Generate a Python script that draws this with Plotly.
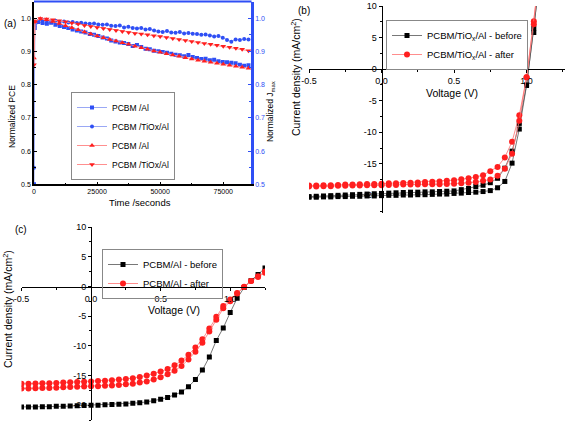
import plotly.graph_objects as go

# ---------------- Panel (a) data ----------------
t_blue = [0, 300, 1700, 3400, 5100, 6800, 8500, 10200, 11900, 13600, 15300, 17000, 18700,
          20400, 22100, 23800, 25500, 27200, 28900, 30600, 32300, 34000, 35700, 37400,
          39100, 40800, 42500, 44200, 45900, 47600, 49300, 51000, 52700, 54400, 56100,
          57800, 59500, 61200, 62900, 64600, 66300, 68000, 69700, 71400, 73100, 74800,
          76500, 78200, 79900, 81600, 83300, 85000]
pce_al_blue = [0.50, 0.97, 0.988, 0.985, 0.983, 0.986, 0.980, 0.976, 0.973, 0.970, 0.966, 0.963,
               0.960, 0.957, 0.952, 0.950, 0.946, 0.942, 0.939, 0.933, 0.930, 0.927, 0.925,
               0.922, 0.916, 0.919, 0.913, 0.908, 0.906, 0.902, 0.900, 0.898, 0.896, 0.893,
               0.890, 0.888, 0.885, 0.889, 0.883, 0.880, 0.877, 0.878, 0.873, 0.875, 0.870,
               0.868, 0.867, 0.866, 0.864, 0.860, 0.857, 0.858]
pce_tiox_blue = [0.55, 0.98, 0.992, 0.995, 0.993, 0.991, 0.992, 0.989, 0.990, 0.987, 0.988, 0.985,
                 0.986, 0.984, 0.983, 0.984, 0.981, 0.980, 0.981, 0.977, 0.976, 0.978, 0.972,
                 0.974, 0.970, 0.969, 0.970, 0.966, 0.967, 0.963, 0.960, 0.958, 0.961, 0.957,
                 0.956, 0.958, 0.954, 0.955, 0.953, 0.952, 0.950, 0.951, 0.948, 0.945, 0.946,
                 0.941, 0.934, 0.929, 0.936, 0.934, 0.937, 0.936]
t_red = [0, 400, 2500, 5000, 7500, 10000, 12500, 15000, 17500, 20000, 22500, 25000, 27500,
         30000, 32500, 35000, 37500, 40000, 42500, 45000, 47500, 50000, 52500, 55000,
         57500, 60000, 62500, 65000, 67500, 70000, 72500, 75000, 77500, 80000, 82500, 85000]
jmax_al_red = [0.88, 0.99, 0.998, 0.995, 0.990, 0.984, 0.977, 0.971, 0.965, 0.958, 0.952, 0.946,
               0.941, 0.936, 0.931, 0.926, 0.921, 0.915, 0.911, 0.906, 0.901, 0.897, 0.893,
               0.889, 0.885, 0.881, 0.877, 0.873, 0.870, 0.867, 0.864, 0.861, 0.858, 0.855,
               0.852, 0.849]
jmax_tiox_red = [0.86, 0.99, 0.999, 0.997, 0.995, 0.992, 0.989, 0.985, 0.982, 0.978, 0.975, 0.972,
                 0.969, 0.966, 0.963, 0.960, 0.957, 0.954, 0.952, 0.950, 0.947, 0.945, 0.942,
                 0.939, 0.936, 0.933, 0.930, 0.927, 0.924, 0.921, 0.918, 0.915, 0.912, 0.909,
                 0.906, 0.902]
a_ticks_x = [0, 25000, 50000, 75000]
a_ticks_y = [0.5, 0.6, 0.7, 0.8, 0.9, 1.0]

# ---------------- Panel (b) data ----------------
v_b = [-0.5, -0.45, -0.4, -0.35, -0.3, -0.25, -0.2, -0.15, -0.1, -0.05, 0.0, 0.05, 0.1, 0.15,
       0.2, 0.25, 0.3, 0.35, 0.4, 0.45, 0.5, 0.55, 0.6, 0.65, 0.7, 0.75, 0.8, 0.85, 0.9, 0.95,
       1.0, 1.05, 1.1]
j_b_before_1 = [-20.3, -20.3, -20.25, -20.25, -20.2, -20.2, -20.15, -20.15, -20.1, -20.1, -20.05,
                -20.0, -20.0, -19.95, -19.95, -19.9, -19.9, -19.85, -19.8, -19.8, -19.7, -19.65,
                -19.55, -19.5, -19.4, -19.25, -18.8, -17.8, -14.9, -9.5, -2.6, 5.8, 16.0]
j_b_before_2 = [-20.2, -20.15, -20.1, -20.05, -20.0, -19.95, -19.9, -19.85, -19.8, -19.75, -19.7,
                -19.65, -19.6, -19.55, -19.5, -19.5, -19.45, -19.45, -19.4, -19.35, -19.3, -19.1,
                -18.9, -18.6, -18.4, -18.0, -17.3, -15.7, -13.0, -8.6, -2.5, 6.5, 17.0]
j_b_after_1 = [-18.45, -18.45, -18.4, -18.4, -18.35, -18.3, -18.3, -18.25, -18.2, -18.2, -18.15,
               -18.1, -18.1, -18.05, -18.0, -17.95, -17.9, -17.85, -17.8, -17.7, -17.6, -17.45,
               -17.3, -17.1, -16.8, -16.2, -15.5, -14.0, -11.5, -7.3, -1.3, 7.6, 18.0]
j_b_after_2 = [-18.6, -18.6, -18.55, -18.55, -18.5, -18.5, -18.45, -18.45, -18.4, -18.4, -18.4,
               -18.35, -18.35, -18.3, -18.3, -18.3, -18.25, -18.25, -18.25, -18.2, -18.15, -18.1,
               -18.0, -17.9, -17.7, -17.5, -16.9, -15.8, -13.4, -8.2, -1.3, 7.1, 17.0]

# ---------------- Panel (c) data ----------------
v_c = [-0.5, -0.45, -0.4, -0.35, -0.3, -0.25, -0.2, -0.15, -0.1, -0.05, 0.0, 0.05, 0.1, 0.15,
       0.2, 0.25, 0.3, 0.35, 0.4, 0.45, 0.5, 0.55, 0.6, 0.65, 0.7, 0.75, 0.8, 0.85, 0.9, 0.95,
       1.0, 1.05, 1.1, 1.15, 1.2, 1.25]
j_c_before = [-20.3, -20.3, -20.3, -20.25, -20.25, -20.2, -20.2, -20.15, -20.1, -20.05, -20.0,
              -20.0, -19.95, -19.9, -19.85, -19.8, -19.7, -19.6, -19.45, -19.25, -19.0, -18.7,
              -18.3, -17.8, -16.9, -15.7, -14.1, -11.9, -9.1, -7.0, -4.4, -2.0, -0.2, 1.0, 2.0, 3.1]
j_c_after_1 = [-16.4, -16.4, -16.35, -16.3, -16.3, -16.25, -16.2, -16.15, -16.1, -16.05, -16.0,
               -15.95, -15.9, -15.8, -15.7, -15.6, -15.45, -15.25, -15.0, -14.7, -14.35, -13.9,
               -13.3, -12.5, -11.5, -10.3, -8.9, -7.1, -5.1, -3.3, -2.2, -1.1, -0.05, 0.9, 1.6, 2.3]
j_c_after_2 = [-17.2, -17.2, -17.15, -17.1, -17.1, -17.05, -17.0, -16.95, -16.9, -16.85, -16.8,
               -16.8, -16.75, -16.7, -16.6, -16.5, -16.4, -16.2, -16.0, -15.7, -15.3, -14.8,
               -14.2, -13.4, -12.3, -11.0, -9.5, -7.6, -5.6, -3.7, -2.5, -1.2, -0.1, 0.9, 1.7, 2.5]
iv_ticks_x = [-0.5, 0.0, 0.5, 1.0]
iv_ticks_y = [-20, -15, -10, -5, 0, 5, 10]

BLUE = "#2f4ff5"
RED = "#ff1f1f"
FONT = "Arial, Liberation Sans, sans-serif"
W, H = 567, 431

fig = go.Figure()

# ---- Panel (a) traces ----
fig.add_trace(go.Scatter(x=t_blue, y=pce_al_blue, name="PCBM /Al", mode="lines+markers",
                         line=dict(color="#9aa8f5", width=1),
                         marker=dict(symbol="square", size=4, color=BLUE),
                         xaxis="x", yaxis="y", legend="legend"))
fig.add_trace(go.Scatter(x=t_blue, y=pce_tiox_blue, name="PCBM /TiOx/Al", mode="lines+markers",
                         line=dict(color="#9aa8f5", width=1),
                         marker=dict(symbol="circle", size=4, color=BLUE),
                         xaxis="x", yaxis="y", legend="legend"))
fig.add_trace(go.Scatter(x=t_red, y=jmax_al_red, name="PCBM /Al", mode="lines+markers",
                         line=dict(color="#ff8f8f", width=1),
                         marker=dict(symbol="triangle-up", size=5, color=RED),
                         xaxis="x", yaxis="y2", legend="legend"))
fig.add_trace(go.Scatter(x=t_red, y=jmax_tiox_red, name="PCBM /TiOx/Al", mode="lines+markers",
                         line=dict(color="#ff8f8f", width=1),
                         marker=dict(symbol="triangle-down", size=5, color=RED),
                         xaxis="x", yaxis="y2", legend="legend"))

# ---- Panel (b) traces ----
fig.add_trace(go.Scatter(x=v_b, y=j_b_before_1, name="PCBM/TiO<sub>x</sub>/Al - before",
                         mode="lines+markers", line=dict(color="#555555", width=0.8),
                         marker=dict(symbol="square", size=5, color="black"),
                         xaxis="x3", yaxis="y3", legend="legend2"))
fig.add_trace(go.Scatter(x=v_b, y=j_b_before_2, showlegend=False,
                         mode="lines+markers", line=dict(color="#555555", width=0.8),
                         marker=dict(symbol="square", size=5, color="black"),
                         xaxis="x3", yaxis="y3", legend="legend2"))
fig.add_trace(go.Scatter(x=v_b, y=j_b_after_1, name="PCBM/TiO<sub>x</sub>/Al - after",
                         mode="lines+markers", line=dict(color="#ff7070", width=0.8),
                         marker=dict(symbol="circle", size=6, color=RED),
                         xaxis="x3", yaxis="y3", legend="legend2"))
fig.add_trace(go.Scatter(x=v_b, y=j_b_after_2, showlegend=False,
                         mode="lines+markers", line=dict(color="#ff7070", width=0.8),
                         marker=dict(symbol="circle", size=6, color=RED),
                         xaxis="x3", yaxis="y3", legend="legend2"))

# ---- Panel (c) traces ----
fig.add_trace(go.Scatter(x=v_c, y=j_c_before, name="PCBM/Al - before",
                         mode="lines+markers", line=dict(color="#555555", width=0.8),
                         marker=dict(symbol="square", size=5, color="black"),
                         xaxis="x4", yaxis="y4", legend="legend3"))
fig.add_trace(go.Scatter(x=v_c, y=j_c_after_1, name="PCBM/Al - after",
                         mode="lines+markers", line=dict(color="#ff7070", width=0.8),
                         marker=dict(symbol="circle", size=6, color=RED),
                         xaxis="x4", yaxis="y4", legend="legend3"))
fig.add_trace(go.Scatter(x=v_c, y=j_c_after_2, showlegend=False,
                         mode="lines+markers", line=dict(color="#ff7070", width=0.8),
                         marker=dict(symbol="circle", size=6, color=RED),
                         xaxis="x4", yaxis="y4", legend="legend3"))

# ---- geometry (pixels -> paper) ----
def px(x):
    return x / W

def py(y):
    return 1 - y / H

tickfont_a = dict(family=FONT, size=7, color="black")
tickfont_iv = dict(family=FONT, size=9, color="black")

common = dict(showgrid=False, zeroline=False, automargin=False)

layout = dict(
    template="none",
    width=W, height=H, margin=dict(l=0, r=0, t=0, b=0, autoexpand=False),
    paper_bgcolor="white", plot_bgcolor="rgba(0,0,0,0)",
    font=dict(family=FONT, color="black"),
    # Panel (a)
    xaxis=dict(domain=[px(34), px(251)], range=[0, 86000], anchor="y",
               tickvals=a_ticks_x, ticktext=[str(v) for v in a_ticks_x],
               ticks="inside", ticklen=3, tickcolor="black",
               minor=dict(ticks="inside", ticklen=2, dtick=12500, tickcolor="black"),
               showline=True, linecolor="black", linewidth=1.5,
               tickfont=tickfont_a, **common),
    yaxis=dict(domain=[py(184.3), py(1.5)], range=[0.5, 1.05], anchor="x",
               tickvals=a_ticks_y, ticktext=["%.1f" % v for v in a_ticks_y],
               ticks="inside", ticklen=3, tickcolor="black",
               minor=dict(ticks="inside", ticklen=2, dtick=0.05, tickcolor="black"),
               showline=True, linecolor="black", linewidth=1.5,
               tickfont=tickfont_a, **common),
    yaxis2=dict(overlaying="y", side="right", anchor="x", range=[0.5, 1.05],
                tickvals=a_ticks_y, ticktext=["%.1f" % v for v in a_ticks_y],
                ticks="inside", ticklen=3, tickcolor=BLUE,
                minor=dict(ticks="inside", ticklen=2, dtick=0.05, tickcolor=BLUE),
                showline=True, linecolor=BLUE, linewidth=2.5,
                tickfont=dict(family=FONT, size=7, color=BLUE), **common),
    # Panel (b)
    xaxis3=dict(domain=[px(309), px(565)], range=[-0.5, 1.265], anchor="free",
                position=py(69), tickvals=iv_ticks_x,
                ticktext=["-0.5", "0.0", "0.5", "1.0"],
                ticks="outside", ticklen=3, tickcolor="black",
                minor=dict(ticks="outside", ticklen=2, dtick=0.25, tickcolor="black"),
                showline=True, linecolor="black", linewidth=1,
                tickfont=tickfont_iv, **common),
    yaxis3=dict(domain=[py(213), py(6)], range=[-22.8, 10], anchor="free",
                position=px(381.5), tickvals=iv_ticks_y,
                ticktext=[str(v) for v in iv_ticks_y],
                ticks="outside", ticklen=3, tickcolor="black",
                minor=dict(ticks="outside", ticklen=2, dtick=2.5, tickcolor="black"),
                showline=True, linecolor="black", linewidth=1,
                tickfont=tickfont_iv, **common),
    # Panel (c)
    xaxis4=dict(domain=[px(21.5), px(265)], range=[-0.5, 1.25], anchor="free",
                position=py(286.7), tickvals=iv_ticks_x,
                ticktext=["-0.5", "0.0", "0.5", "1.0"],
                ticks="outside", ticklen=3, tickcolor="black",
                minor=dict(ticks="outside", ticklen=2, dtick=0.25, tickcolor="black"),
                showline=True, linecolor="black", linewidth=1,
                tickfont=tickfont_iv, **common),
    yaxis4=dict(domain=[py(420), py(227)], range=[-22.5, 10], anchor="free",
                position=px(91), tickvals=iv_ticks_y,
                ticktext=[str(v) for v in iv_ticks_y],
                ticks="outside", ticklen=3, tickcolor="black",
                minor=dict(ticks="outside", ticklen=2, dtick=2.5, tickcolor="black"),
                showline=True, linecolor="black", linewidth=1,
                tickfont=tickfont_iv, **common),
    legend=dict(x=px(71), y=py(92), xanchor="left", yanchor="top",
                bgcolor="rgba(255,255,255,0)", bordercolor="#888888", borderwidth=1,
                font=dict(family=FONT, size=8.5, color="black"),
                itemwidth=30, tracegroupgap=0),
    legend2=dict(x=px(386), y=py(20), xanchor="left", yanchor="top",
                 bgcolor="rgba(255,255,255,0)", bordercolor="#888888", borderwidth=1,
                 font=dict(family=FONT, size=9.5, color="black"), itemwidth=30),
    legend3=dict(x=px(102), y=py(249), xanchor="left", yanchor="top",
                 bgcolor="rgba(255,255,255,0)", bordercolor="#888888", borderwidth=1,
                 font=dict(family=FONT, size=9.5, color="black"), itemwidth=30),
    showlegend=True,
)
fig.update_layout(**layout)

# top blue frame line of panel (a)
fig.add_shape(type="line", xref="paper", yref="paper", x0=px(34), x1=px(251.5),
              y0=py(1.5), y1=py(1.5), line=dict(color=BLUE, width=2))

ann = [
    dict(text="(a)", x=px(2), y=py(23), xanchor="left", yanchor="middle", size=10, angle=0),
    dict(text="(b)", x=px(296), y=py(11), xanchor="left", yanchor="middle", size=10, angle=0),
    dict(text="(c)", x=px(13), y=py(230), xanchor="left", yanchor="middle", size=10, angle=0),
    dict(text="Normalized PCE", x=px(12), y=py(117), xanchor="center", yanchor="middle",
         size=8.5, angle=-90),
    dict(text="Normalized J<sub>max</sub>", x=px(270), y=py(112), xanchor="center",
         yanchor="middle", size=8.5, angle=-90),
    dict(text="Time /seconds", x=px(140), y=py(203), xanchor="center", yanchor="middle",
         size=9.5, angle=0),
    dict(text="Current density (mA/cm<sup>2</sup>)", x=px(295), y=py(77), xanchor="center",
         yanchor="middle", size=10.5, angle=-90),
    dict(text="Voltage (V)", x=px(452), y=py(93), xanchor="center", yanchor="middle",
         size=10.5, angle=0),
    dict(text="Current density (mA/cm<sup>2</sup>)", x=px(7), y=py(309), xanchor="center",
         yanchor="middle", size=10.5, angle=-90),
    dict(text="Voltage (V)", x=px(174), y=py(310), xanchor="center", yanchor="middle",
         size=10.5, angle=0),
]
for a in ann:
    fig.add_annotation(text=a["text"], x=a["x"], y=a["y"], xref="paper", yref="paper",
                       xanchor=a["xanchor"], yanchor=a["yanchor"], textangle=a["angle"],
                       showarrow=False, font=dict(family=FONT, size=a["size"], color="black"))

# remove the browser's default 8px page margin so the figure fills the window exactly
fig.write_html("out.html", config={"displayModeBar": False},
               post_script="document.body.style.margin='0';document.body.style.overflow='hidden';")
